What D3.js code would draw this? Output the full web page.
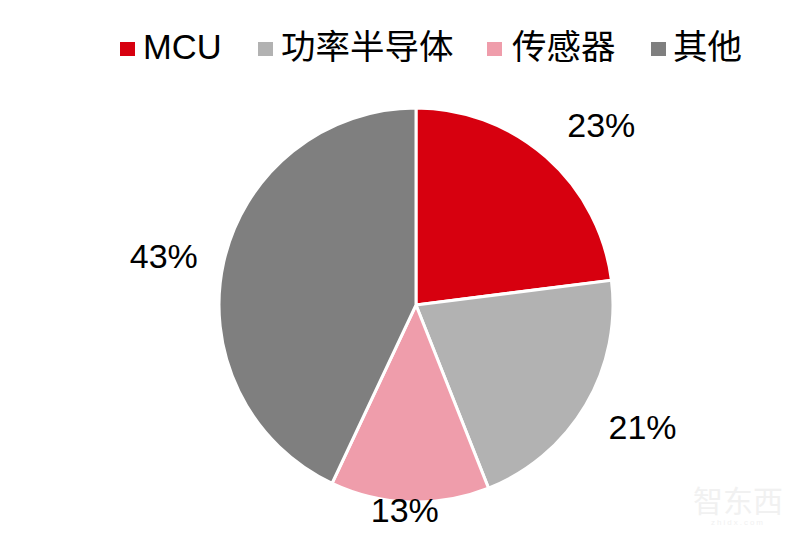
<!DOCTYPE html>
<html>
<head>
<meta charset="utf-8">
<script src="https://d3js.org/d3.v7.min.js"></script>
<style>
  body { margin: 0; background: #fff; }
  text { font-family: "Liberation Sans", "Noto Sans CJK SC", sans-serif; fill: #000; }
</style>
</head>
<body>
<div id="chart"></div>
<script>
var categories = ["MCU", "功率半导体", "传感器", "其他"]
var values = [23, 21, 13, 43]
var colors = ["#d7000f", "#b2b2b2", "#ef9dab", "#7f7f7f"]

var width = 800, height = 541
var cx = 416, cy = 305, radius = 197

var svg = d3.select("#chart").append("svg")
  .attr("width", width)
  .attr("height", height)

var pie = d3.pie().sort(null).value(function(d){ return d })
var arc = d3.arc().innerRadius(0).outerRadius(radius)
var edgeArc = d3.arc().innerRadius(radius).outerRadius(radius)

var g = svg.append("g").attr("transform", "translate(" + cx + "," + cy + ")")

g.selectAll("path")
  .data(pie(values))
  .enter()
  .append("path")
  .attr("d", arc)
  .attr("fill", function(d, i){ return colors[i] })
  .attr("stroke", "#fff")
  .attr("stroke-width", 3)

// the original labels were placed by hand, so shift each one off the slice edge
var labelShift = [[55, -29], [57, 25], [-5, 11], [-60, -3]]

g.selectAll("text.pct")
  .data(pie(values))
  .enter()
  .append("text")
  .attr("class", "pct")
  .attr("x", function(d, i){ return edgeArc.centroid(d)[0] + labelShift[i][0] })
  .attr("y", function(d, i){ return edgeArc.centroid(d)[1] + labelShift[i][1] })
  .attr("text-anchor", "middle")
  .attr("dominant-baseline", "middle")
  .attr("font-size", 34)
  .text(function(d){ return d.value + "%" })

// legend
var legendX = [120, 258, 487, 651]
var legendGap = [23, 23, 25, 22]
var legend = svg.selectAll("g.legend")
  .data(categories)
  .enter()
  .append("g")
  .attr("class", "legend")
  .attr("transform", function(d, i){ return "translate(" + legendX[i] + ",49)" })

legend.append("rect")
  .attr("x", 0)
  .attr("y", -7)
  .attr("width", 15)
  .attr("height", 14)
  .attr("fill", function(d, i){ return colors[i] })

legend.append("text")
  .attr("x", function(d, i){ return legendGap[i] })
  .attr("y", 1)
  .attr("dominant-baseline", "middle")
  .attr("font-size", 34.5)
  .text(function(d){ return d })

// faint watermark, bottom right
svg.append("text")
  .attr("x", 738)
  .attr("y", 512)
  .attr("text-anchor", "middle")
  .attr("font-size", 30)
  .style("fill", "#f1f1f1")
  .text("智东西")

svg.append("text")
  .attr("x", 738)
  .attr("y", 525)
  .attr("text-anchor", "middle")
  .attr("font-size", 8)
  .attr("letter-spacing", 2)
  .style("fill", "#f1f1f1")
  .text("zhidx.com")
</script>
</body>
</html>
